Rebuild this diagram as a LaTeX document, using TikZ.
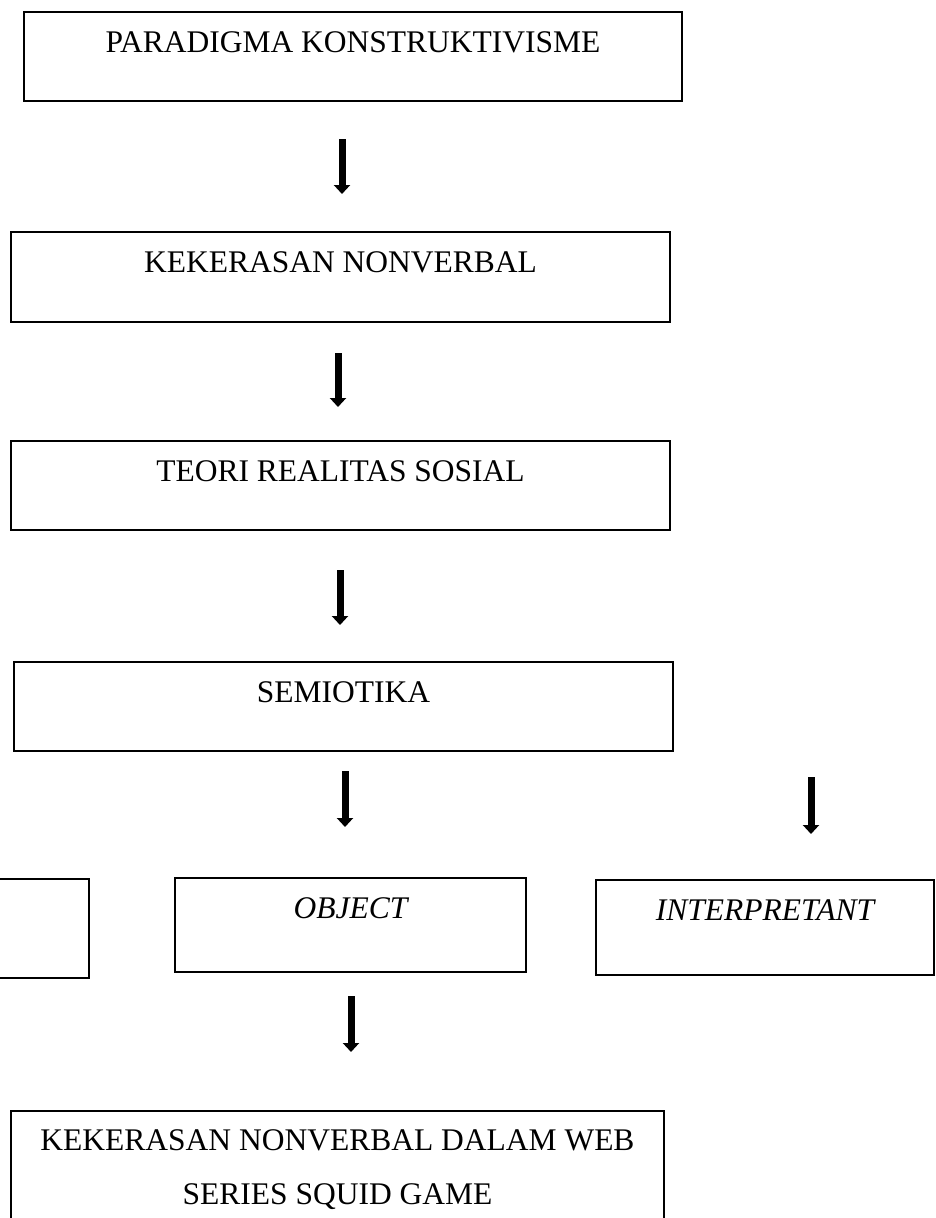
\documentclass[tikz,border=0pt]{standalone}
\usepackage{fontspec}
\setmainfont{Liberation Serif}
\usetikzlibrary{arrows.meta}
\begin{document}
\begin{tikzpicture}[x=1pt,y=-1pt,
  box/.style={draw=black, line width=1.8pt, rectangle, inner sep=0pt, anchor=north,
    text height=41pt, font=\fontsize{31.5}{54}\selectfont, align=center},
  arr/.style={line width=7pt, -{Triangle[width=16pt,length=9pt]}}
]
\fill[white] (0,0) rectangle (935,1218);
\useasboundingbox (0,0) rectangle (935,1218);

% main column
\node[box, minimum width=658pt, text depth=48pt] (b1) at (353,11) {PARADIGMA KONSTRUKTIVISME};
\node[box, minimum width=659pt, text depth=49pt] (b2) at (340.5,231) {KEKERASAN NONVERBAL};
\node[box, minimum width=659pt, text depth=48pt] (b3) at (340.5,440) {TEORI REALITAS SOSIAL};
\node[box, minimum width=659pt, text depth=48pt] (b4) at (343.5,661) {SEMIOTIKA};

% third row
\node[box, minimum width=140pt, text height=0pt, minimum height=99pt] (b5) at (19,878) {};
\node[box, minimum width=351pt, text depth=53pt] (b6) at (350.5,877) {\itshape OBJECT};
\node[box, minimum width=338pt, text depth=54pt] (b7) at (765,879) {\itshape INTERPRETANT};

% final box
\node[box, minimum width=653pt, text height=94pt, text depth=45pt] (b8) at (337.5,1110)
  {KEKERASAN NONVERBAL DALAM WEB\\SERIES SQUID GAME};

% arrows
\coordinate (a1s) at (342,139); \coordinate (a1e) at (342,194);
\coordinate (a2s) at (338,353); \coordinate (a2e) at (338,407);
\coordinate (a3s) at (340,570); \coordinate (a3e) at (340,625);
\coordinate (a4s) at (345,771); \coordinate (a4e) at (345,827);
\coordinate (a5s) at (811,777); \coordinate (a5e) at (811,834);
\coordinate (a6s) at (351,996); \coordinate (a6e) at (351,1052);
\draw[arr] (a1s) -- (a1e);
\draw[arr] (a2s) -- (a2e);
\draw[arr] (a3s) -- (a3e);
\draw[arr] (a4s) -- (a4e);
\draw[arr] (a5s) -- (a5e);
\draw[arr] (a6s) -- (a6e);
\end{tikzpicture}
\end{document}
